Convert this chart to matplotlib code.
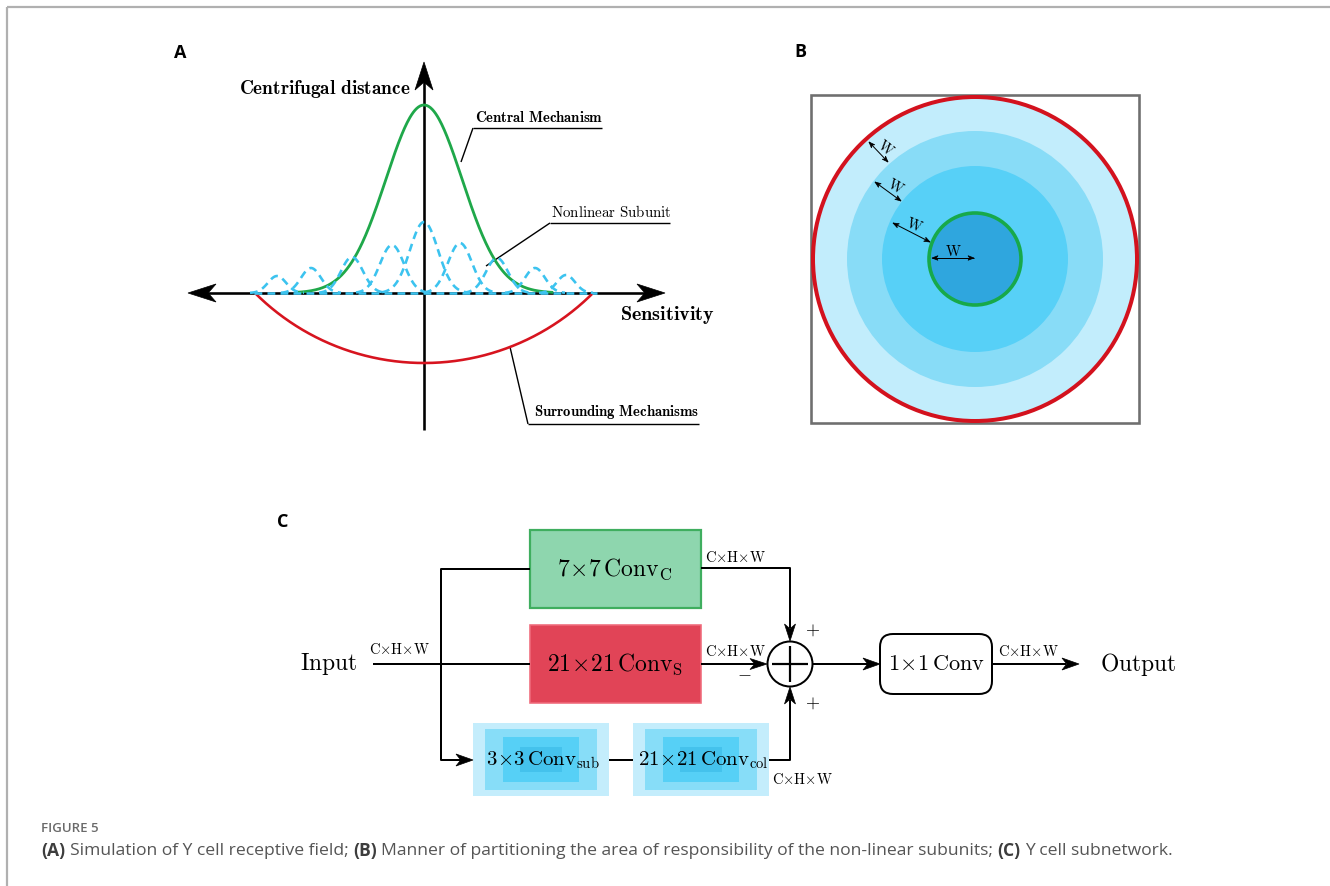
import numpy as np
import matplotlib
matplotlib.use("Agg")
import matplotlib.pyplot as plt
from matplotlib.patches import Polygon, Rectangle, Circle, FancyBboxPatch

plt.rcParams["mathtext.fontset"] = "cm"

# ---- data -------------------------------------------------------------
# panel A: centre gaussian, surround arc, nonlinear subunits (pixel units)
center_amp, center_sigma = 188, 38
surround_half_width, surround_depth = 169, 70
subunit_x = [277, 311, 352, 392, 424, 460, 497, 535, 566]
subunit_h = [17, 25, 36, 48, 71, 50, 35, 25, 18]
subunit_sigma = [9, 10, 11, 12, 14, 12, 11, 10, 9]

# panel B: ring radii and colours (outer -> inner)
ring_r = [162, 128, 93, 46]
ring_col = ["#c2edfc", "#88dcf7", "#57d0f7", "#2fa6de"]

# panel C: block labels
lbl_center = r"$7\!\times\!7\,\mathrm{Conv}_{\mathrm{C}}$"
lbl_surround = r"$21\!\times\!21\,\mathrm{Conv}_{\mathrm{S}}$"
lbl_sub = r"$3\!\times\!3\,\mathrm{Conv}_{\mathrm{sub}}$"
lbl_col = r"$21\!\times\!21\,\mathrm{Conv}_{\mathrm{col}}$"
lbl_1x1 = r"$1\!\times\!1\,\mathrm{Conv}$"
chw = r"$\mathrm{C{\times}H{\times}W}$"

fig = plt.figure(figsize=(13.3, 8.86), dpi=100)
ax = fig.add_axes([0, 0, 1, 1])
ax.set_xlim(0, 1330)
ax.set_ylim(886, 0)
ax.axis("off")

PX = 72 / 100  # pixels -> points


def stealth(tip, d, L, W, color="k"):
    d = np.array(d, float)
    d /= np.hypot(*d)
    p = np.array([-d[1], d[0]])
    tip = np.array(tip, float)
    pts = [tip, tip - L * d + W * p, tip - 0.72 * L * d, tip - L * d - W * p]
    ax.add_patch(Polygon(pts, closed=True, fc=color, ec=color, lw=0.5, zorder=6))


def line(xs, ys, lw=2, color="k", z=3, **kw):
    ax.plot(xs, ys, color=color, lw=lw * PX, zorder=z, solid_joinstyle="round",
            solid_capstyle="butt", **kw)


# frame of the figure page
line([7, 7], [886, 7], lw=2.2, color="#b0b0b0")
line([7, 1330], [7, 7], lw=2.2, color="#b0b0b0")

# ---- panel A ----------------------------------------------------------
ax.text(180, 53, "A", fontsize=13, fontweight="bold", family="Open Sans",
        ha="center", va="center")
ox, oy = 424, 293
# axes
line([ox, ox], [430, 80], lw=2.6)
stealth((ox, 62), (0, -1), 28, 9)
line([205, 648], [oy, oy], lw=2.6)
stealth((188, oy), (-1, 0), 28, 9)
stealth((665, oy), (1, 0), 28, 9)

# surround arc (circular)
R = (surround_half_width ** 2 + surround_depth ** 2) / (2 * surround_depth)
cy = oy + surround_depth - R
t = np.linspace(-np.arcsin(surround_half_width / R), np.arcsin(surround_half_width / R), 200)
line(ox + R * np.sin(t), cy + R * np.cos(t), lw=2.6, color="#d7141f", z=4)

# centre gaussian
gx = np.linspace(-3.4 * center_sigma, 3.4 * center_sigma, 300)
line(ox + gx, oy - center_amp * np.exp(-gx ** 2 / (2 * center_sigma ** 2)),
     lw=2.8, color="#1fa84a", z=4)

# nonlinear subunits
blue = "#3cc3ef"
ax.plot([254, 597], [oy, oy], color=blue, lw=2.6 * PX, dashes=(3, 2), zorder=5)
for cx, h, s in zip(subunit_x, subunit_h, subunit_sigma):
    bx = np.linspace(-3.0 * s, 3.0 * s, 80)
    ax.plot(cx + bx, oy - h * np.exp(-bx ** 2 / (2 * s ** 2)), color=blue,
            lw=2.6 * PX, dashes=(3, 2), zorder=5)

# labels
ax.text(411, 89, r"$\mathbf{Centrifugal\ distance}$", fontsize=13.9, ha="right", va="center")
ax.text(620, 315, r"$\mathbf{Sensitivity}$", fontsize=14.5, ha="left", va="center")
ax.text(475, 117, r"$\mathbf{Central\ Mechanism}$", fontsize=10.6, ha="left", va="center")
line([473, 602], [128, 128], lw=1.4)
line([473, 461], [128, 162], lw=1.4)
ax.text(551, 212, r"$\mathrm{Nonlinear\ Subunit}$", fontsize=10.8, ha="left", va="center")
line([550, 670], [223, 223], lw=1.4)
line([550, 486], [223, 266], lw=1.4)
ax.text(534, 412, r"$\mathbf{Surrounding\ Mechanisms}$", fontsize=10.6, ha="left", va="center")
line([528, 699], [424, 424], lw=1.4)
ax_x = 510
line([528, ax_x], [424, cy + np.sqrt(R ** 2 - (ax_x - ox) ** 2)], lw=1.4)

# ---- panel B ----------------------------------------------------------
ax.text(800, 52, "B", fontsize=13, fontweight="bold", family="Open Sans",
        ha="center", va="center")
bx0, by0 = 975, 259
ax.add_patch(Rectangle((811, 95), 328, 328, fill=False, ec="#6f6f6f", lw=2.6 * PX, zorder=2))
for r, c in zip(ring_r, ring_col):
    ax.add_patch(Circle((bx0, by0), r, fc=c, ec="none", zorder=3))
ax.add_patch(Circle((bx0, by0), ring_r[0], fill=False, ec="#d3121e", lw=4 * PX, zorder=4))
ax.add_patch(Circle((bx0, by0), ring_r[-1], fill=False, ec="#17a94a", lw=3.6 * PX, zorder=4))


def dbl_arrow(p0, p1):
    line([p0[0], p1[0]], [p0[1], p1[1]], lw=1.0, z=6)
    d = np.subtract(p1, p0)
    stealth(p1, d, 6, 2.3)
    stealth(p0, -d, 6, 2.3)


w_arrows = [((869, 142), (888, 162)), ((875, 182), (901, 201)),
            ((893, 223), (930, 242)), ((932, 258), (974, 258))]
w_text = [((886, 148), -38), ((895, 187), -30), ((914, 225), -22), ((953, 251), 0)]
for (p0, p1), ((tx, ty), rot) in zip(w_arrows, w_text):
    dbl_arrow(p0, p1)
    ax.text(tx, ty, r"$\mathrm{W}$", fontsize=10.5, rotation=rot, ha="center",
            va="center", zorder=7)

# ---- panel C ----------------------------------------------------------
ax.text(283, 522, "C", fontsize=13, fontweight="bold", family="Open Sans",
        ha="center", va="center")
lw_c = 2.0
ax.add_patch(Rectangle((530, 530), 171, 78, fc="#8ed6ae", ec="#3fae5f", lw=2.2 * PX, zorder=2))
ax.add_patch(Rectangle((530, 625), 171, 78, fc="#e14457", ec="#ef6a7a", lw=1.6 * PX, zorder=2))
nest = [(0, 0, "#c4edfc"), (12, 6, "#87ddf8"), (30, 14, "#56d0f6"), (47, 24, "#44c2ec")]
for x0, x1 in [(473, 609), (633, 769)]:
    for insx, insy, col in nest:
        ax.add_patch(Rectangle((x0 + insx, 723 + insy), (x1 - x0) - 2 * insx, 73 - 2 * insy,
                               fc=col, ec="none", zorder=2))

ax.text(615, 569, lbl_center, fontsize=17, ha="center", va="center", zorder=5)
ax.text(615, 664, lbl_surround, fontsize=17, ha="center", va="center", zorder=5)
ax.text(543, 760, lbl_sub, fontsize=15, ha="center", va="center", zorder=5)
ax.text(703, 760, lbl_col, fontsize=15, ha="center", va="center", zorder=5)

# routing lines
line([373, 530], [664, 664], lw=lw_c)
line([530, 441, 441, 462], [569, 569, 760, 760], lw=lw_c)
stealth((473, 760), (1, 0), 17, 6)
line([701, 790, 790], [568, 568, 628], lw=lw_c)
stealth((790, 641), (0, 1), 17, 5.5)
line([701, 755], [664, 664], lw=lw_c)
stealth((767, 664), (1, 0), 17, 5.5)
line([609, 633], [760, 760], lw=lw_c)
line([769, 790, 790], [760, 760, 700], lw=lw_c)
stealth((790, 687), (0, -1), 17, 5.5)

# sum node
ax.add_patch(Circle((790, 664), 22.5, fc="white", ec="k", lw=2 * PX, zorder=4))
line([772, 808], [664, 664], lw=2.2, z=5)
line([790, 790], [646, 682], lw=2.2, z=5)
ax.text(813, 630, r"$+$", fontsize=13, ha="center", va="center")
ax.text(744, 673, r"$-$", fontsize=13, ha="center", va="center")
ax.text(813, 703, r"$+$", fontsize=13, ha="center", va="center")

line([812, 868], [664, 664], lw=lw_c)
stealth((880, 664), (1, 0), 17, 6)
ax.add_patch(FancyBboxPatch((880, 634), 112, 60, boxstyle="round,pad=0,rounding_size=13",
                            fc="white", ec="k", lw=2 * PX, zorder=3))
ax.text(936, 664, lbl_1x1, fontsize=16, ha="center", va="center", zorder=5)
line([992, 1066], [664, 664], lw=lw_c)
stealth((1079, 664), (1, 0), 17, 6)

ax.text(300, 664, r"$\mathrm{Input}$", fontsize=17, ha="left", va="center")
ax.text(1100, 664, r"$\mathrm{Output}$", fontsize=17, ha="left", va="center")
for (tx, ty) in [(399, 650), (735, 557), (735, 652), (1028, 652), (802, 780)]:
    ax.text(tx, ty, chw, fontsize=10.5, ha="center", va="center", zorder=6)

# ---- caption ----------------------------------------------------------
ax.text(41, 829, "FIGURE 5", fontsize=9.5, family="Open Sans", fontweight="semibold",
        color="#6a6a6a", va="center")
caption = [("(A)", True), (" Simulation of Y cell receptive field; ", False),
           ("(B)", True),
           (" Manner of partitioning the area of responsibility of the non-linear subunits; ", False),
           ("(C)", True), (" Y cell subnetwork.", False)]
rend = fig.canvas.get_renderer()
cap_size = 12.6


def width_of(s, bold):
    t = ax.text(0, 0, s, fontsize=cap_size, family="Open Sans",
                fontweight="bold" if bold else "normal")
    w = t.get_window_extent(rend).width
    t.remove()
    return w


space_w = width_of("x x", False) - width_of("xx", False)
x = 41
for s, b in caption:
    lead = len(s) - len(s.lstrip(" "))
    trail = len(s) - len(s.rstrip(" "))
    x += lead * space_w
    t = ax.text(x, 851, s.strip(" "), fontsize=cap_size, family="Open Sans",
                fontweight="bold" if b else "normal",
                color="#3d3d3d" if b else "#555555", va="center")
    x += t.get_window_extent(rend).width + trail * space_w

fig.savefig("out.png", dpi=100)
